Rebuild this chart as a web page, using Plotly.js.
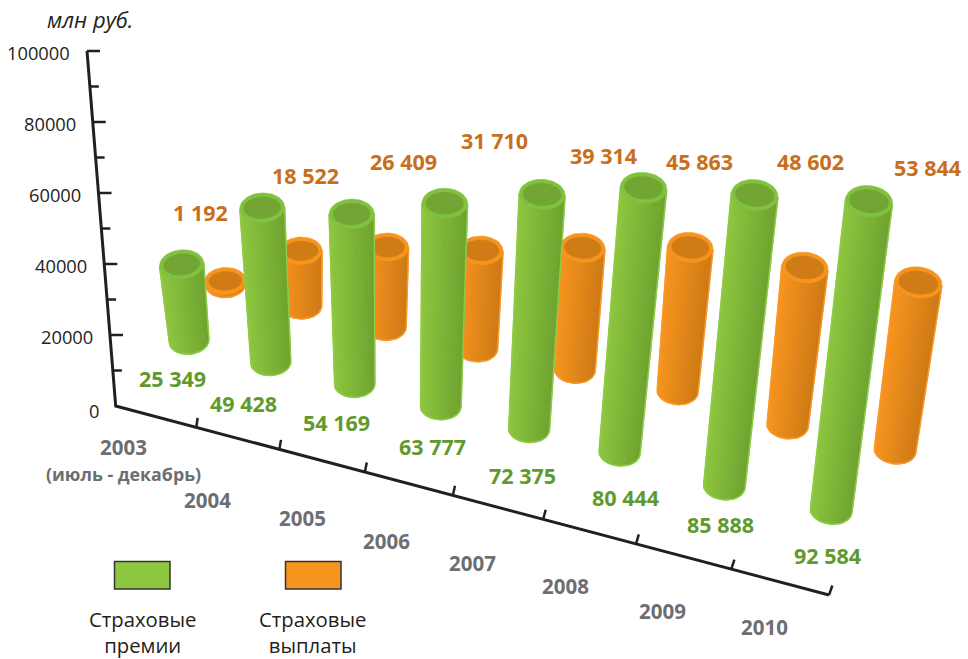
<!DOCTYPE html>
<html><head><meta charset="utf-8">
<script src="https://cdn.plot.ly/plotly-3.0.1.min.js"></script>
<style>html,body{margin:0;padding:0;background:#fff}</style></head>
<body><div id="chart" style="width:968px;height:659px"></div>
<script>
// ---------- data ----------
const years = ['2003','2004','2005','2006','2007','2008','2009','2010'];
const premiums = [25349,49428,54169,63777,72375,80444,85888,92584];
const payouts = [1192,18522,26409,31710,39314,45863,48602,53844];
const axisTicks = [0,10000,20000,30000,40000,50000,60000,70000,80000,90000,100000];
const seriesNames = ['Страховые<br>премии','Страховые<br>выплаты'];

// ---------- label anchors (page layout) ----------
const premiumLabelAnchor = [[172,378],[243,403],[336,422],[432,446],[522,475],[625,497],[720.5,524],[827,555]];
const payoutLabelAnchor = [[200,212],[305,175],[403,161],[494,140],[603,155],[699,161],[810,161],[927,167]];
const yearLabelAnchor = [[123,447],[207,500],[302,518],[386,541],[472,563],[565,586],[662,611],[764,627]];

// ---------- oblique perspective projection ----------
const premiumRise = [3.018,3.126,3.138,3.183,3.24,3.288,3.388,3.338];
const payoutRise = [3,2.97,3.03,3.09,3.10,3.13,3.24,3.11];
const K = v => v/1000;
const after5 = i => Math.max(0,i-5);
const projection = [
  { // front row: premiums
    base: i => [189+80.6*i+1.1*i*i+12*after5(i), 341+21*i+.25*i*i+(i>=6?10:0)],
    lean: i => -.29+.118*Math.min(i,5)+.055*after5(i),
    rise: i => premiumRise[i],
    rTop: i => 22.2+.2*i, rBot: i => 20+.15*i,
    dark:[110,163,47], light:[141,198,63], rim:'#80c140', inner:'#72a533', edge:'#8fcb45'
  },
  { // back row: payouts
    base: i => [225.5+71.96*i+4.45*i*i-.1524*i*i*i+(i===6?3:0), 284.5+21.3*i+(i>=6?12.7+3.7*(i-6):0)],
    lean: i => -.11+.078*i,
    rise: i => payoutRise[i],
    rTop: i => 20.5+.45*i, rBot: i => 19.8+.17*i,
    dark:[205,121,20], light:[247,148,30], rim:'#f7941e', inner:'#cf7c17', edge:'#f9982a'
  }
];
const mix = (a,b,t) => 'rgb('+a.map((c,k)=>Math.round(c+(b[k]-c)*t)).join(',')+')';

function cylinder(row,i,v){
  const P = projection[row];
  const [bx,by] = P.base(i);
  const tx = bx+K(v)*P.lean(i), ty = by-K(v)*P.rise(i);
  const len = Math.hypot(tx-bx,by-ty)||1;
  const ux=(tx-bx)/len, uy=(ty-by)/len;       // along the axis, upward
  const px=-uy, py=ux;                        // across the axis, to the right
  const rT=P.rTop(i), rB=P.rBot(i);
  const ell=(cx,cy,rx,ry,t)=>[cx+rx*Math.cos(t)*px+ry*Math.sin(t)*ux, cy+rx*Math.cos(t)*py+ry*Math.sin(t)*uy];
  const out=[];
  const N=12;
  for(let s=0;s<N;s++){
    const c0=-1+2*s/N, c1=-1+2*(s+1)/N;
    const xs=[],ys=[];
    const pt=(c,r,cx,cy,low)=>{
      const d=low?Math.sqrt(Math.max(0,1-c*c))*r*.66:0;
      return [cx+c*r*px-d*ux, cy+c*r*py-d*uy];
    };
    const steps=3;
    const p0=pt(c0,rT,tx,ty,false), p1=pt(c1,rT,tx,ty,false);
    xs.push(p0[0],p1[0]); ys.push(p0[1],p1[1]);
    for(let k=0;k<=steps;k++){const c=c1+(c0-c1)*k/steps;const q=pt(c,rB,bx,by,true);xs.push(q[0]);ys.push(q[1]);}
    xs.push(p0[0]); ys.push(p0[1]);
    const col=mix(P.light,P.dark,(s+.5)/N);
    out.push({type:'scatter',mode:'lines',x:xs,y:ys,fill:'toself',fillcolor:col,line:{color:col,width:.8},hoverinfo:'skip',showlegend:false});
  }
  // outline of the body
  const ox=[],oy=[];
  const L=[tx-rT*px,ty-rT*py];
  ox.push(L[0]);oy.push(L[1]);
  for(let k=0;k<=24;k++){const t=Math.PI+Math.PI*k/24;const q=ell(bx,by,rB,rB*.66,t);ox.push(q[0]);oy.push(q[1]);}
  ox.push(tx+rT*px);oy.push(ty+rT*py);
  out.push({type:'scatter',mode:'lines',x:ox,y:oy,line:{color:P.edge,width:1.5},hoverinfo:'skip',showlegend:false});
  // top rim and its inner hollow
  [[rT,rT*.66,P.rim],[rT-4,rT*.66-4,P.inner]].forEach(([rx,ry,c])=>{
    const ex=[],ey=[];
    for(let k=0;k<=48;k++){const q=ell(tx,ty,rx,ry,2*Math.PI*k/48);ex.push(q[0]);ey.push(q[1]);}
    out.push({type:'scatter',mode:'lines',x:ex,y:ey,fill:'toself',fillcolor:c,line:{color:c,width:.5},hoverinfo:'skip',showlegend:false});
  });
  return out;
}

// ---------- axes drawn through the same page scale ----------
const yAxisPoint = v => [115.7-.287*K(v), 406-3.55*K(v)];
const xAxisPoint = k => {const x=115.7+79.4*k+1.22*k*k; return [x,406+(x-115.7)*.265];};
const axisColor='#231f20';
const traces=[];
const lineTrace=(pts,w)=>({type:'scatter',mode:'lines',x:pts.map(p=>p[0]),y:pts.map(p=>p[1]),line:{color:axisColor,width:w},hoverinfo:'skip',showlegend:false});
traces.push(lineTrace([yAxisPoint(100000),yAxisPoint(0),xAxisPoint(years.length)],3));
axisTicks.slice(1).forEach(v=>{
  const p=yAxisPoint(v), major=(v%20000===0);
  traces.push(lineTrace([p,[p[0]+(major?13:9),p[1]]],2.5));
});
years.forEach((y,i)=>{
  const k=i+1,p=xAxisPoint(k);
  traces.push(lineTrace([p,[p[0]+1+.3*k,p[1]-9.5]],2.5));
});
years.forEach((y,i)=>{
  traces.push(...cylinder(1,i,payouts[i]));
  traces.push(...cylinder(0,i,premiums[i]));
});

// ---------- texts ----------
const fmt=v=>String(v).replace(/\B(?=(\d{3})+$)/g,' ');
const F='"Open Sans", sans-serif';
const note=(x,y,text,size,color,weight,extra)=>Object.assign({xref:'x',yref:'y',x,y,text,showarrow:false,xanchor:'center',yanchor:'middle',font:{family:F,size,color,weight:weight||400}},extra||{});
const annotations=[];
premiums.forEach((v,i)=>annotations.push(note(premiumLabelAnchor[i][0],premiumLabelAnchor[i][1],fmt(v),21.5,'#5f9a2e',700)));
payouts.forEach((v,i)=>annotations.push(note(payoutLabelAnchor[i][0],payoutLabelAnchor[i][1],fmt(v),21.5,'#c96f1c',700)));
years.forEach((y,i)=>annotations.push(note(yearLabelAnchor[i][0],yearLabelAnchor[i][1],y,20.5,'#6d6e71',700)));
annotations.push(note(123,473.5,'(июль - декабрь)',17.8,'#6d6e71',700));
axisTicks.filter(v=>v%20000===0).forEach(v=>{
  const p=yAxisPoint(v);
  annotations.push(note(p[0]-15,v===0?410:p[1]+1.5,String(v),18.3,'#231f20',400,{xanchor:'right'}));
});
annotations.push(note(90,19,'<i>млн руб.</i>',22,'#231f20',400));
annotations.push(note(142,632,seriesNames[0],20.3,'#231f20',400));
annotations.push(note(312,632,seriesNames[1],20.3,'#231f20',400));

const legendBox=(x0,x1,c)=>({type:'rect',xref:'x',yref:'y',x0,x1,y0:561.5,y1:589,fillcolor:c,line:{color:'#333',width:1.5}});

Plotly.newPlot('chart',traces,{
  width:968,height:659,margin:{l:0,r:0,t:0,b:0},showlegend:false,
  paper_bgcolor:'#fff',plot_bgcolor:'#fff',
  xaxis:{range:[0,968],visible:false,fixedrange:true},
  yaxis:{range:[659,0],visible:false,fixedrange:true},
  shapes:[legendBox(114.5,170,'#8dc63f'),legendBox(285.5,341,'#f7941e')],
  annotations
},{staticPlot:true,displayModeBar:false});
</script></body></html>
